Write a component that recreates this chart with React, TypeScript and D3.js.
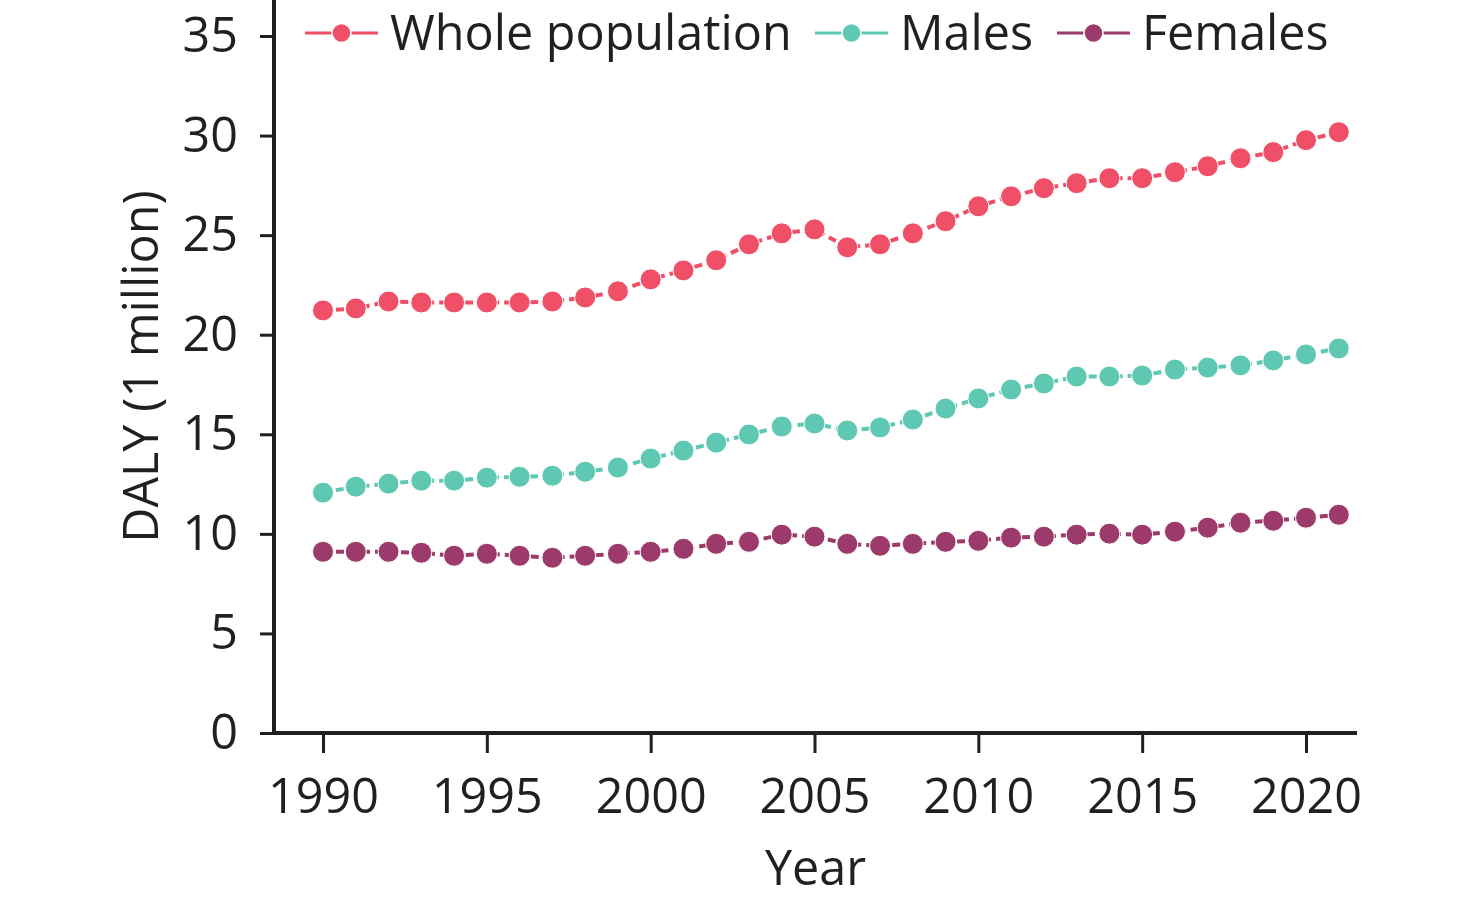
import { useEffect, useRef } from 'react';
import * as d3 from 'd3';

const years = d3.range(1990, 2022);

const wholePopulation = [
  21.22, 21.32, 21.67, 21.62, 21.62, 21.62, 21.62, 21.67, 21.87, 22.18,
  22.78, 23.23, 23.74, 24.54, 25.09, 25.29, 24.39, 24.54, 25.09, 25.7,
  26.45, 26.95, 27.36, 27.61, 27.86, 27.86, 28.16, 28.46, 28.86, 29.17,
  29.77, 30.17,
];

const males = [
  12.07, 12.37, 12.52, 12.67, 12.67, 12.82, 12.87, 12.92, 13.12, 13.33,
  13.78, 14.18, 14.58, 14.99, 15.39, 15.54, 15.19, 15.34, 15.74, 16.29,
  16.8, 17.25, 17.55, 17.9, 17.9, 17.95, 18.25, 18.35, 18.46, 18.71,
  19.01, 19.31,
];

const females = [
  9.1, 9.1, 9.1, 9.05, 8.9, 9.0, 8.9, 8.8, 8.9, 9.0,
  9.1, 9.25, 9.5, 9.6, 9.96, 9.86, 9.5, 9.4, 9.5, 9.6,
  9.65, 9.81, 9.86, 9.96, 10.01, 9.96, 10.11, 10.31, 10.56, 10.66,
  10.81, 10.96,
];

const xTicks = [1990, 1995, 2000, 2005, 2010, 2015, 2020];
const yTicks = [0, 5, 10, 15, 20, 25, 30, 35];

const seriesNames = ['Whole population', 'Males', 'Females'];
const seriesColors = ['#ef5068', '#5fc8b2', '#9c3b6b'];

const textColor = '#231f20';
const fontFamily = '"Open Sans", sans-serif';
const fontSize = 48.5;

export default function App() {
  const ref = useRef<SVGSVGElement | null>(null);
  const width = 1476;
  const height = 902;

  useEffect(() => {
    if (!ref.current) return;
    const svg = d3.select(ref.current);
    svg.selectAll('*').remove();

    const x = d3.scaleLinear().domain([1990, 2020]).range([323, 1306]);
    const y = d3.scaleLinear().domain([0, 35]).range([733, 36]);
    const axisLeftX = 274;
    const axisRightX = 1357;

    // axes
    const xAxis = svg.append('g')
      .attr('transform', `translate(0,${y(0)})`)
      .call(d3.axisBottom(x).tickValues(xTicks).tickFormat(d3.format('d')).tickSize(20).tickPadding(26).tickSizeOuter(0));
    xAxis.select('.domain').remove();
    xAxis.selectAll('line').attr('stroke', textColor).attr('stroke-width', 3);
    xAxis.selectAll('text')
      .attr('font-family', fontFamily)
      .attr('font-size', fontSize)
      .attr('fill', textColor);

    const yAxis = svg.append('g')
      .attr('transform', `translate(${axisLeftX},0)`)
      .call(d3.axisLeft(y).tickValues(yTicks).tickSize(14).tickPadding(22).tickSizeOuter(0));
    yAxis.select('.domain').remove();
    yAxis.selectAll('line').attr('stroke', textColor).attr('stroke-width', 3);
    yAxis.selectAll('text')
      .attr('font-family', fontFamily)
      .attr('font-size', fontSize)
      .attr('fill', textColor);

    svg.append('path')
      .attr('d', `M${axisLeftX},0V${y(0)}H${axisRightX}`)
      .attr('fill', 'none')
      .attr('stroke', textColor)
      .attr('stroke-width', 4);

    // series
    const allSeries = [wholePopulation, males, females];
    const line = d3.line<number>()
      .x((_, i) => x(years[i]))
      .y(d => y(d));

    allSeries.forEach((values, s) => {
      const g = svg.append('g');
      g.append('path')
        .datum(values)
        .attr('fill', 'none')
        .attr('stroke', seriesColors[s])
        .attr('stroke-width', 4)
        .attr('stroke-dasharray', '8,5')
        .attr('d', line);
      g.selectAll('circle')
        .data(values)
        .enter()
        .append('circle')
        .attr('cx', (_, i) => x(years[i]))
        .attr('cy', d => y(d))
        .attr('r', 10.5)
        .attr('fill', seriesColors[s])
        .attr('stroke', '#fff')
        .attr('stroke-width', 1);
    });

    // legend
    const legendX = [305, 815, 1057];
    const legendY = 33;
    seriesNames.forEach((name, s) => {
      const g = svg.append('g').attr('transform', `translate(${legendX[s]},${legendY})`);
      g.append('line')
        .attr('x1', 0).attr('x2', 73)
        .attr('stroke', seriesColors[s])
        .attr('stroke-width', 3);
      g.append('circle')
        .attr('cx', 36.5)
        .attr('r', 9.5)
        .attr('fill', seriesColors[s])
        .attr('stroke', '#fff')
        .attr('stroke-width', 1.5);
      g.append('text')
        .attr('x', 85)
        .attr('dy', '0.35em')
        .attr('font-family', fontFamily)
        .attr('font-size', fontSize)
        .attr('fill', textColor)
        .text(name);
    });

    // axis titles
    svg.append('text')
      .attr('x', (axisLeftX + axisRightX) / 2)
      .attr('y', 885)
      .attr('text-anchor', 'middle')
      .attr('font-family', fontFamily)
      .attr('font-size', fontSize)
      .attr('fill', textColor)
      .text('Year');

    svg.append('text')
      .attr('transform', `translate(158,${(y(0) + y(35)) / 2 - 18}) rotate(-90)`)
      .attr('text-anchor', 'middle')
      .attr('font-family', fontFamily)
      .attr('font-size', fontSize)
      .attr('fill', textColor)
      .text('DALY (1 million)');
  }, []);

  return (
    <svg
      ref={ref}
      width={width}
      height={height}
      style={{ position: 'absolute', left: 0, top: 0, background: '#fff' }}
    />
  );
}
